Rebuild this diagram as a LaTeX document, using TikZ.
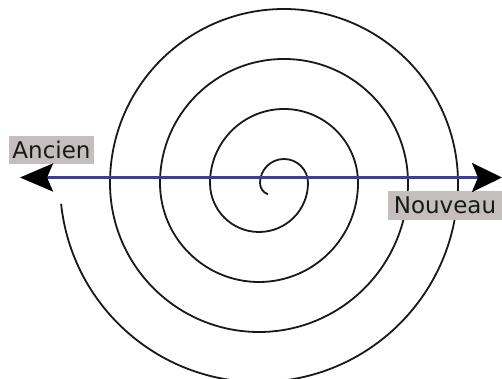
\documentclass[tikz,border=0pt]{standalone}
\usepackage{fontspec}
\setmainfont{DejaVu Sans}
\usetikzlibrary{arrows.meta}
\definecolor{axisblue}{RGB}{58,62,158}
\definecolor{labelgray}{RGB}{196,190,190}
\definecolor{textdark}{RGB}{25,25,25}
\tikzset{
  spiralline/.style={line width=1.8pt, black!90},
  axisline/.style={line width=3pt, axisblue,
    arrows={Stealth[length=33pt,width=28pt,inset=6pt,black]-Stealth[length=30pt,width=29pt,inset=6pt,black]}},
  labelbox/.style={fill=labelgray, text=textdark, inner sep=0pt,
    font=\fontsize{23}{26}\selectfont, anchor=center}
}
\begin{document}
\begin{tikzpicture}[x=1pt,y=1pt]
\useasboundingbox[fill=white] (0,0) rectangle (502,379);
% spiral made of half circles
\draw[spiralline] (272,196) ++(250:12)
  arc[start angle=250,end angle=180,radius=12]
  arc[start angle=180,end angle=0,radius=24]
  arc[start angle=0,end angle=-180,radius=49]
  arc[start angle=180,end angle=0,radius=74]
  arc[start angle=0,end angle=-180,radius=99]
  arc[start angle=180,end angle=0,radius=124]
  arc[start angle=0,end angle=-180,radius=149]
  arc[start angle=180,end angle=0,radius=174]
  arc[start angle=0,end angle=-174,radius=199];
% labels
\node[labelbox, minimum width=85pt, minimum height=28pt] (ancien) at (51.5,229) {Ancien};
\node[labelbox, minimum width=114pt, minimum height=29pt] (nouveau) at (445,173.5) {Nouveau};
% axis
\coordinate (old) at (20,201.5);
\coordinate (new) at (502,201.5);
\draw[axisline] (old) -- (new);
\end{tikzpicture}
\end{document}
